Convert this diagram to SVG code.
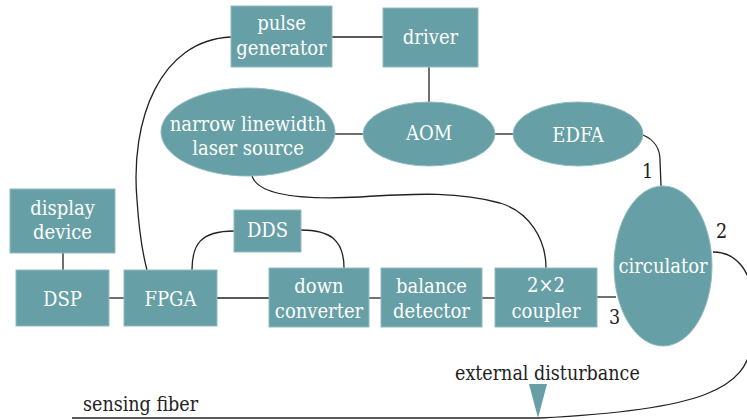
<svg xmlns="http://www.w3.org/2000/svg" width="747" height="420" viewBox="0 0 747 420">
<style>
.n{fill:#669fa5;stroke:#8fbcc0;stroke-width:1}
.t{font-size:20px;fill:#ffffff;text-anchor:middle}
.k{font-size:19.5px;fill:#222222}
.c{fill:none;stroke:#222222;stroke-width:1.3}
</style>
<rect width="747" height="420" fill="#ffffff"/>
<g id="connectors">
<path class="c" d="M332,37 L383,37"/>
<path class="c" d="M429,67 L429,102"/>
<path class="c" d="M335,134 L363,134"/>
<path class="c" d="M495,134 L513,134"/>
<path class="c" d="M643,135 C655,140 660,150 660,160 L661,186"/>
<path class="c" d="M231,37 C160,40 130,120 137,200 C139,230 143,255 147,270"/>
<path class="c" d="M252,176 C258,195 300,200 360,197 C420,193 460,192 500,203 C530,212 546,240 546,268"/>
<path class="c" d="M63,253 L63,270"/>
<path class="c" d="M109,298 L124,298"/>
<path class="c" d="M217,298 L269,298"/>
<path class="c" d="M369,298 L381,298"/>
<path class="c" d="M482,298 L495,298"/>
<path class="c" d="M597,297 L616,297"/>
<path class="c" d="M192,270 C192,245 200,231 234,231"/>
<path class="c" d="M301,230 C330,230 344,240 344,268"/>
<path class="c" d="M713,252 C735,252 752,270 752,300 L752,340 C748,390 700,410 540,418"/>
<path class="c" d="M72,418 L540,418"/>
</g>
<g font-family="DejaVu Serif Condensed, DejaVu Serif, serif" font-stretch="condensed">
<g id="pulse_generator"><rect class="n" x="231" y="6" width="101" height="61"/><text class="t" x="281.5" y="30">pulse</text><text class="t" x="281.5" y="55">generator</text></g>
<g id="driver"><rect class="n" x="383" y="8" width="95" height="59"/><text class="t" x="430.5" y="44">driver</text></g>
<g id="laser"><ellipse class="n" cx="248" cy="132" rx="87" ry="44"/><text class="t" x="248" y="131">narrow linewidth</text><text class="t" x="248" y="155">laser source</text></g>
<g id="aom"><ellipse class="n" cx="429" cy="134" rx="66" ry="32"/><text class="t" x="429" y="140">AOM</text></g>
<g id="edfa"><ellipse class="n" cx="578" cy="134" rx="65" ry="32"/><text class="t" x="578" y="142">EDFA</text></g>
<g id="circulator"><ellipse class="n" cx="663" cy="266" rx="49" ry="80"/><text class="t" x="663" y="273">circulator</text></g>
<g id="display"><rect class="n" x="10" y="189" width="105" height="64"/><text class="t" x="62.5" y="215">display</text><text class="t" x="62.5" y="239">device</text></g>
<g id="dsp"><rect class="n" x="16" y="270" width="93" height="56"/><text class="t" x="62.5" y="306">DSP</text></g>
<g id="fpga"><rect class="n" x="124" y="270" width="93" height="56"/><text class="t" x="170.5" y="306">FPGA</text></g>
<g id="dds"><rect class="n" x="234" y="210" width="67" height="42"/><text class="t" x="267.5" y="237">DDS</text></g>
<g id="down_converter"><rect class="n" x="269" y="268" width="100" height="59"/><text class="t" x="319" y="293">down</text><text class="t" x="319" y="318">converter</text></g>
<g id="balance_detector"><rect class="n" x="381" y="268" width="101" height="59"/><text class="t" x="431.5" y="293">balance</text><text class="t" x="431.5" y="318">detector</text></g>
<g id="coupler"><rect class="n" x="495" y="268" width="102" height="59"/><text class="t" x="546" y="292">2×2</text><text class="t" x="546" y="318">coupler</text></g>
<g id="labels">
<text class="k" x="642" y="178">1</text>
<text class="k" x="716" y="238">2</text>
<text class="k" x="609" y="324">3</text>
<text class="k" x="455" y="380">external disturbance</text>
<text class="k" x="83" y="411">sensing fiber</text>
<polygon points="529,384 547,384 538,418" fill="#669fa5"/>
</g>
</g>
</svg>
